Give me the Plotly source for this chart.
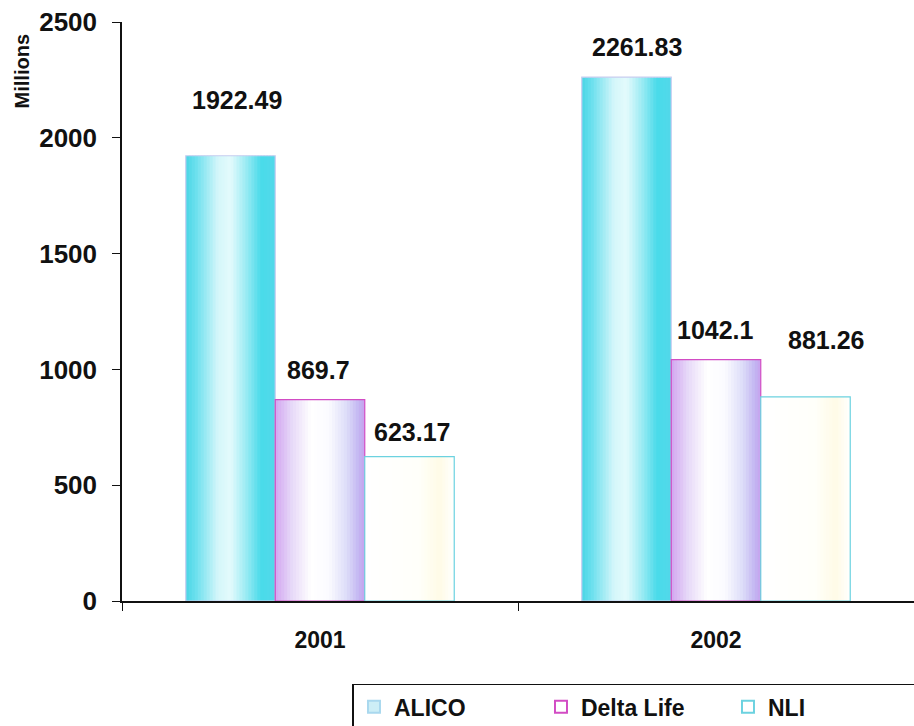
import plotly.graph_objects as go

# ---- data ----
years = ["2001", "2002"]
series_names = ["ALICO", "Delta Life", "NLI"]
alico = [1922.49, 2261.83]
delta_life = [869.7, 1042.1]
nli = [623.17, 881.26]
y_ticks = [0, 500, 1000, 1500, 2000, 2500]

values = [alico, delta_life, nli]

# ---- styling ----
FONT = "Liberation Sans, Arial, sans-serif"
gradients = [
    [(0.0, "#4ad6e6"), (0.12, "#6ee0ee"), (0.36, "#d4f6fa"), (0.5, "#e4fafc"),
     (0.68, "#98eaf3"), (0.84, "#4adbea"), (1.0, "#52d8ea")],
    [(0.0, "#d2a6f0"), (0.18, "#e6d8f8"), (0.4, "#ffffff"), (0.6, "#fbfbff"),
     (0.8, "#dcdcf8"), (0.94, "#c2b4f2"), (1.0, "#c8a2ee")],
    [(0.0, "#ffffff"), (0.6, "#fffffa"), (0.84, "#fffbe6"), (1.0, "#ffffff")],
]
outline_colors = ["#c8cdf0", "#d24cc4", "#6cd2e0"]
legend_fill = ["#cdeef6", "rgba(255,255,255,1)", "rgba(255,255,255,1)"]
legend_line = ["#a9d8ee", "#d24cc4", "#6cd2e0"]

group_w = 0.678
bar_w = group_w / 3
N = 30


def hex2rgb(h):
    h = h.lstrip("#")
    return [int(h[i:i + 2], 16) for i in (0, 2, 4)]


def grad_color(stops, t):
    for (t0, c0), (t1, c1) in zip(stops[:-1], stops[1:]):
        if t0 <= t <= t1:
            f = 0 if t1 == t0 else (t - t0) / (t1 - t0)
            a, b = hex2rgb(c0), hex2rgb(c1)
            r = [round(a[k] + (b[k] - a[k]) * f) for k in range(3)]
            return "rgb(%d,%d,%d)" % tuple(r)
    return stops[-1][1]


fig = go.Figure()

for s, (name, vals) in enumerate(zip(series_names, values)):
    start = -group_w / 2 + s * bar_w
    end = start + bar_w
    step = bar_w / N
    for i in range(N):
        off = start + i * step
        w = min(step * 1.6, end - off)
        t = (i + 0.5) / N
        fig.add_trace(go.Bar(
            x=years, y=vals, offset=off, width=w,
            marker=dict(color=grad_color(gradients[s], t), line=dict(width=0)),
            showlegend=False, hoverinfo="skip",
        ))
    fig.add_trace(go.Bar(
        x=years, y=vals, offset=start, width=bar_w, name=name,
        marker=dict(color="rgba(0,0,0,0)", line=dict(color=outline_colors[s], width=1.2)),
        showlegend=False,
    ))

# legend proxies
for s, name in enumerate(series_names):
    fig.add_trace(go.Scatter(
        x=[None], y=[None], mode="markers", name=name,
        marker=dict(symbol="square", size=13, color=legend_fill[s],
                    line=dict(color=legend_line[s], width=1.5)),
    ))

# value labels
label_dx = [[6, -2, 2], [10, -1, 20]]
label_dy = [[56, 30, 25], [30, 30, 57]]
annotations = []
for s, vals in enumerate(values):
    center = -group_w / 2 + (s + 0.5) * bar_w
    for j, v in enumerate(vals):
        annotations.append(dict(
            x=j + center, y=v, xref="x", yref="y", text=f"{v:g}",
            showarrow=False, xanchor="center", yanchor="middle",
            xshift=label_dx[j][s], yshift=label_dy[j][s],
            font=dict(family=FONT, size=25, color="#111111", weight="bold"),
        ))
annotations.append(dict(
    x=-0.126, y=0.915, xref="paper", yref="paper", text="Millions",
    textangle=-90, showarrow=False, xanchor="center", yanchor="middle",
    font=dict(family=FONT, size=20, color="#111111", weight="bold"),
))

fig.update_layout(
    width=914, height=726,
    margin=dict(l=122, r=0, t=22, b=125, autoexpand=False),
    paper_bgcolor="white", plot_bgcolor="white",
    barmode="overlay",
    font=dict(family=FONT, size=20, color="#111111", weight="bold"),
    annotations=annotations,
    showlegend=True,
    legend=dict(
        orientation="h", x=0.291, y=-0.143, xanchor="left", yanchor="top",
        bordercolor="#111111", borderwidth=1.5,
        font=dict(family=FONT, size=23, color="#111111", weight="bold"),
        entrywidth=142, entrywidthmode="pixels",
        itemsizing="constant",
    ),
)
fig.update_xaxes(
    type="category", range=[-0.5, 1.5],
    showline=True, linecolor="#111111", linewidth=1.5,
    ticks="outside", tickson="boundaries", ticklen=8, tickcolor="#111111",
    ticklabelstandoff=18,
    showgrid=False, zeroline=False,
    tickfont=dict(family=FONT, size=23, color="#111111", weight="bold"),
)
fig.update_yaxes(
    range=[0, 2500], tickvals=y_ticks,
    showline=True, linecolor="#111111", linewidth=1.5,
    ticks="outside", ticklen=8, tickcolor="#111111",
    ticklabelstandoff=10,
    showgrid=False, zeroline=False,
    tickfont=dict(family=FONT, size=26, color="#111111", weight="bold"),
)

fig.write_html("out.html")
